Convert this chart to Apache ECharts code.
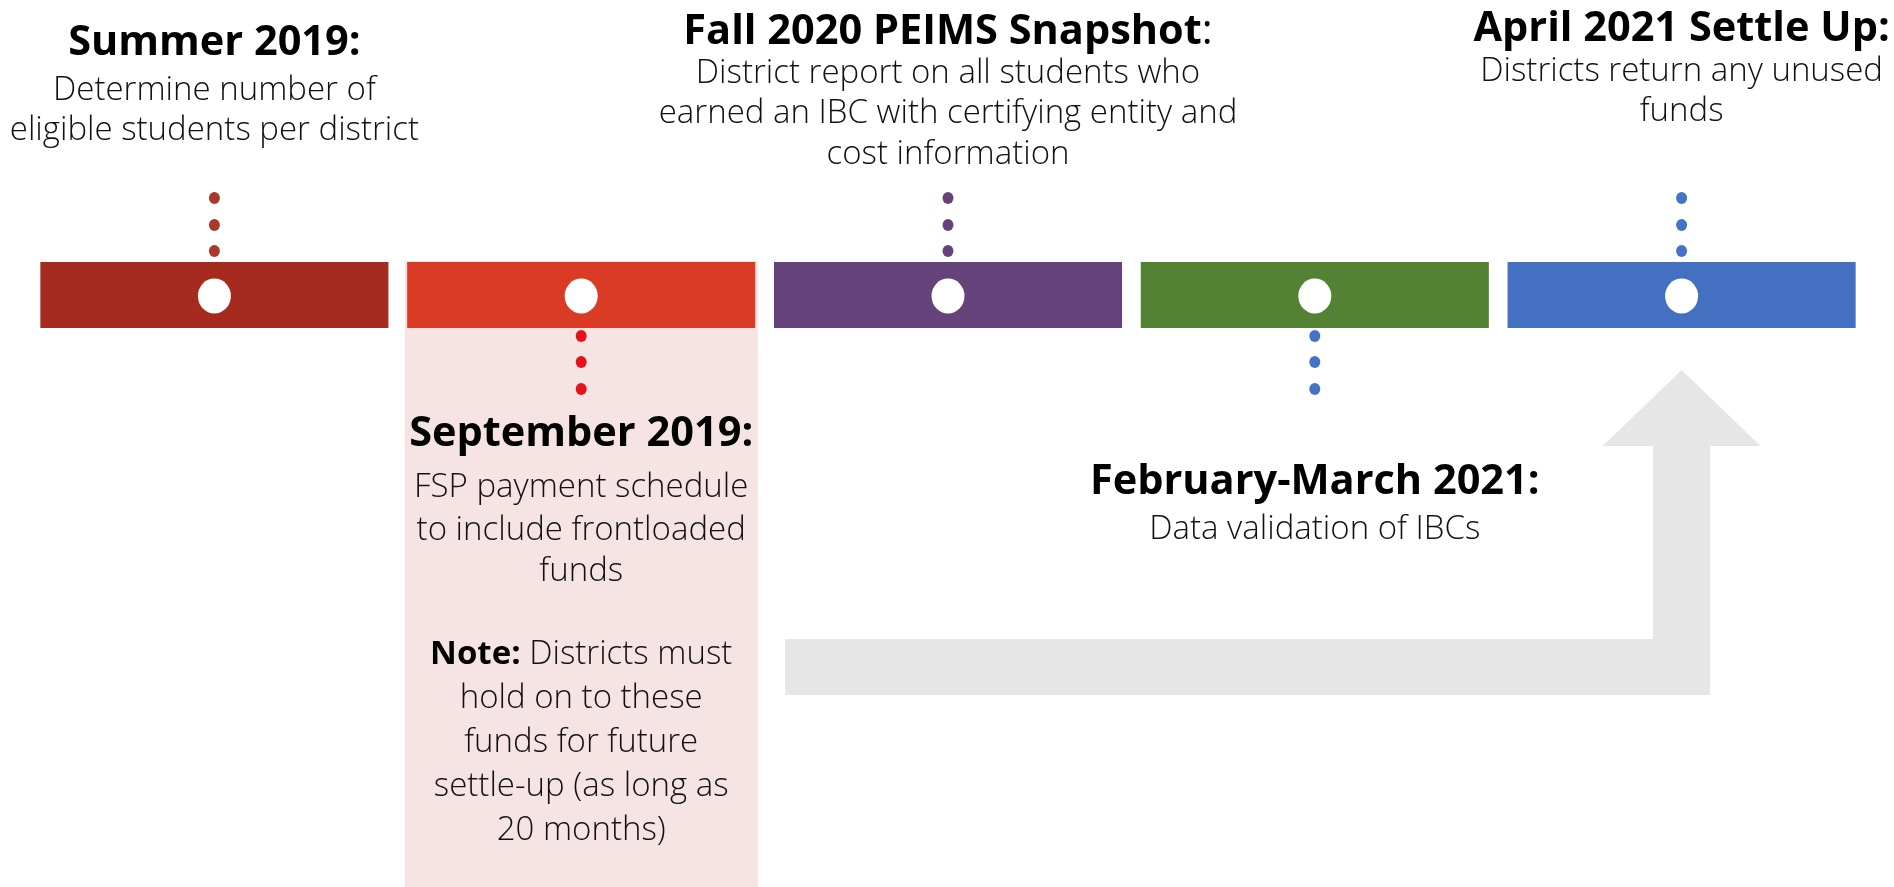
<!DOCTYPE html>
<html><head><meta charset="utf-8">
<script src="https://cdn.jsdelivr.net/npm/echarts@6/dist/echarts.min.js"></script>
<style>html,body{margin:0;padding:0;background:#fff}#c{width:1894px;height:887px}</style>
</head><body><div id="c"></div>
<script>
// ---- content ----
const phases = ['Summer 2019', 'September 2019', 'Fall 2020', 'February-March 2021', 'April 2021'];
const titles = ['Summer 2019:', 'September 2019:', 'Fall 2020 PEIMS Snapshot', 'February-March 2021:', 'April 2021 Settle Up:'];
const titleSuffixPlain = ['', '', ':', '', ''];
const descriptions = [
  ['Determine number of', 'eligible students per district'],
  ['FSP payment schedule', 'to include frontloaded', 'funds'],
  ['District report on all students who', 'earned an IBC with certifying entity and', 'cost information'],
  ['Data validation of IBCs'],
  ['Districts return any unused', 'funds']
];
const notePhase = 'September 2019';
const noteLead = 'Note:';
const noteLines = [' Districts must', 'hold on to these', 'funds for future', 'settle-up (as long as', '20 months)'];
const calloutSide = ['above', 'below', 'above', 'below', 'above'];
const highlightPhase = 'September 2019';
const arrowFrom = 'Fall 2020';
const arrowTo = 'April 2021';

// ---- styling / layout (layout units = page pixels on the inverted y scale) ----
const FONT = '"Open Sans", "Liberation Sans", sans-serif';
const barColors = ['#A52B1E', '#D93B24', '#65437A', '#548235', '#4470C1'];
const dotColors = ['#A93A2B', '#E8101A', '#65437A', '#4472C4', '#4472C4'];
const Y = { barTop: 262, barBottom: 328, circle: 296, dotsAbove: [198, 225, 251], dotsBelow: [336, 362, 389],
  panelTop: 261, panelBottom: 887, arrowBarTop: 639, arrowBarBottom: 695, arrowHeadBase: 446, arrowTip: 370 };
const textLayout = [
  { title: 43, lines: [91, 131] },
  { title: 434, lines: [488, 531, 572], note: [655, 699, 743, 787, 831] },
  { title: 32, lines: [74, 114, 155] },
  { title: 482, lines: [530] },
  { title: 29, lines: [72, 112] }
];
const TITLE_SIZE = 41.5, DESC_SIZE = 33;

const chart = echarts.init(document.getElementById('c'), null, { renderer: 'canvas' });

const dotsData = [];
phases.forEach((p, i) => {
  const ys = calloutSide[i] === 'above' ? Y.dotsAbove : Y.dotsBelow;
  ys.forEach(y => dotsData.push({ value: [i, y], itemStyle: { color: dotColors[i], opacity: 1 } }));
});

function catWidth(api) { return api.size([1, 0])[0]; }

const option = {
  backgroundColor: '#ffffff',
  animation: false,
  grid: { left: 31, right: 29, top: 0, bottom: 0 },
  xAxis: { type: 'category', data: phases, show: false, boundaryGap: true },
  yAxis: { type: 'value', min: 0, max: 887, inverse: true, show: false },
  series: [
    { // highlight panel
      type: 'custom', silent: true, z: 1,
      data: [[phases.indexOf(highlightPhase)]],
      renderItem: (params, api) => {
        const w = catWidth(api) * 0.963;
        const top = api.coord([api.value(0), Y.panelTop]);
        const bot = api.coord([api.value(0), Y.panelBottom]);
        return { type: 'rect', shape: { x: top[0] - w / 2, y: top[1], width: w, height: bot[1] - top[1] },
          style: { fill: '#F6E4E4' } };
      }
    },
    { // bent arrow
      type: 'custom', silent: true, z: 1,
      data: [[phases.indexOf(arrowFrom), phases.indexOf(arrowTo)]],
      renderItem: (params, api) => {
        const cw = catWidth(api);
        const from = api.coord([api.value(0), Y.arrowBarTop]);
        const to = api.coord([api.value(1), Y.arrowBarBottom]);
        const left = from[0] - cw / 2 + cw * 0.056;
        const cx = to[0];
        const sh = cw * 0.078, hh = cw * 0.215;
        const t = from[1], b = to[1];
        const hb = api.coord([0, Y.arrowHeadBase])[1], tip = api.coord([0, Y.arrowTip])[1];
        return { type: 'polygon', shape: { points: [
          [left, t], [cx - sh, t], [cx - sh, hb], [cx - hh, hb], [cx, tip], [cx + hh, hb],
          [cx + sh, hb], [cx + sh, b], [left, b]] }, style: { fill: '#E6E6E6' } };
      }
    },
    { // timeline bars
      type: 'custom', silent: true, z: 2,
      data: phases.map((p, i) => [i]),
      renderItem: (params, api) => {
        const w = catWidth(api) * 0.949;
        const top = api.coord([api.value(0), Y.barTop]);
        const bot = api.coord([api.value(0), Y.barBottom]);
        return { type: 'rect', shape: { x: top[0] - w / 2, y: top[1], width: w, height: bot[1] - top[1] },
          style: { fill: barColors[params.dataIndex] } };
      }
    },
    { // white markers
      type: 'scatter', silent: true, z: 3,
      symbol: 'circle', symbolSize: [33, 35],
      itemStyle: { color: '#ffffff', opacity: 1 },
      data: phases.map((p, i) => [i, Y.circle])
    },
    { // connector dots
      type: 'scatter', silent: true, z: 3,
      symbol: 'circle', symbolSize: [11, 12],
      itemStyle: { opacity: 1 },
      data: dotsData
    },
    { // texts
      type: 'custom', silent: true, z: 4,
      data: phases.map((p, i) => [i]),
      renderItem: (params, api) => {
        const i = params.dataIndex;
        const L = textLayout[i];
        const x = api.coord([i, 0])[0];
        const yy = v => api.coord([i, v])[1];
        const children = [];
        children.push({ type: 'text', x: x, y: yy(L.title), style: {
          text: '{b|' + titles[i] + '}' + (titleSuffixPlain[i] ? '{r|' + titleSuffixPlain[i] + '}' : ''),
          align: 'center', verticalAlign: 'middle',
          rich: {
            b: { fontFamily: FONT, fontSize: TITLE_SIZE, fontWeight: 'bold', fill: '#000000', color: '#000000' },
            r: { fontFamily: FONT, fontSize: TITLE_SIZE, fontWeight: 'normal', fill: '#000000', color: '#000000' }
          } } });
        descriptions[i].forEach((line, k) => {
          children.push({ type: 'text', x: x, y: yy(L.lines[k]), style: {
            text: line, fontFamily: FONT, fontSize: DESC_SIZE, fontWeight: 300, fill: '#111111',
            align: 'center', verticalAlign: 'middle' } });
        });
        if (phases[i] === notePhase && L.note) {
          noteLines.forEach((line, k) => {
            const txt = k === 0 ? '{b|' + noteLead + '}{n|' + line + '}' : '{n|' + line + '}';
            children.push({ type: 'text', x: x, y: yy(L.note[k]), style: {
              text: txt, align: 'center', verticalAlign: 'middle',
              rich: {
                b: { fontFamily: FONT, fontSize: DESC_SIZE, fontWeight: 'bold', fill: '#000000', color: '#000000' },
                n: { fontFamily: FONT, fontSize: DESC_SIZE, fontWeight: 300, fill: '#111111', color: '#111111' }
              } } });
          });
        }
        return { type: 'group', children: children };
      }
    }
  ]
};
chart.setOption(option);
</script>
</body></html>
